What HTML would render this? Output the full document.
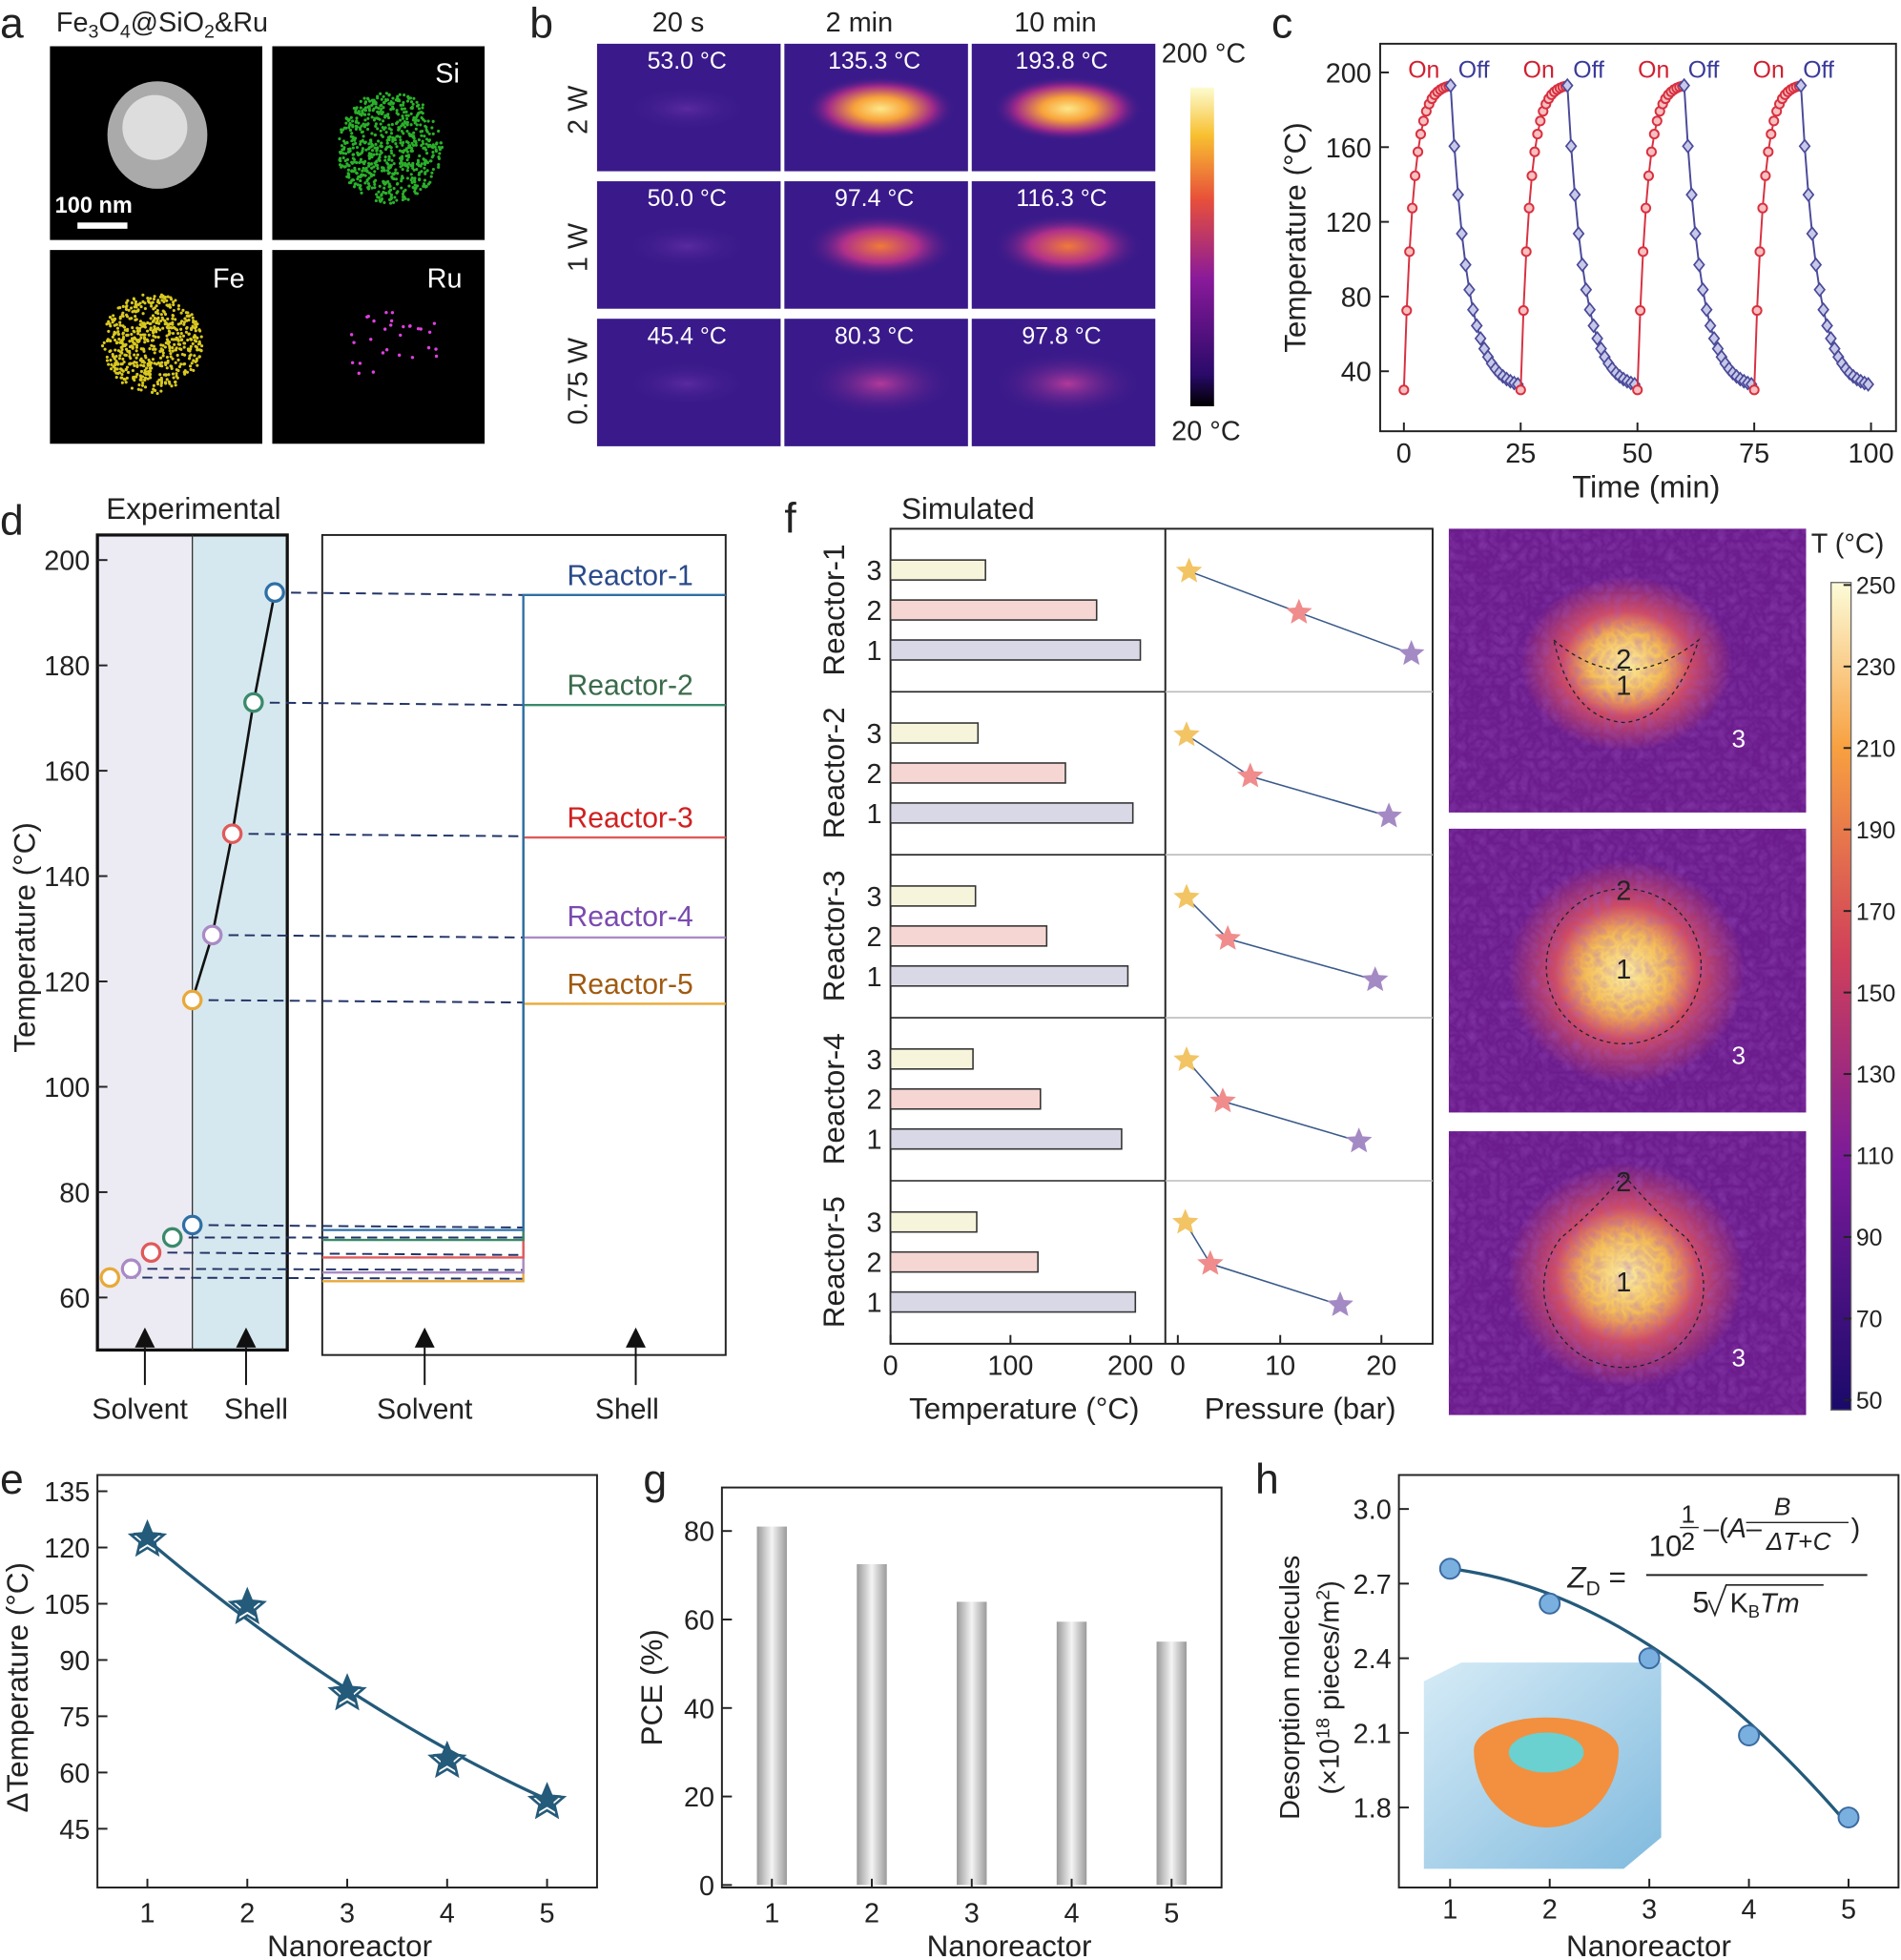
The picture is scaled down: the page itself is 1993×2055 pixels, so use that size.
<!DOCTYPE html>
<html><head><meta charset="utf-8"><style>
html,body{margin:0;padding:0;background:#fff}
svg{display:block}
text{font-family:"Liberation Sans",sans-serif}
</style></head><body>
<svg id="s" width="1993" height="2055" viewBox="0 0 1522 1568" preserveAspectRatio="none" xmlns="http://www.w3.org/2000/svg">
<defs>
<radialGradient id="hot1" cx="50%" cy="50%" r="50%"><stop offset="0" stop-color="#fde78a"/><stop offset=".35" stop-color="#f8a43a"/><stop offset=".7" stop-color="#a02a8a"/><stop offset="1" stop-color="#3a1a8a" stop-opacity="0"/></radialGradient>
<radialGradient id="hot2" cx="50%" cy="50%" r="50%"><stop offset="0" stop-color="#f07a3a"/><stop offset=".5" stop-color="#b0308a"/><stop offset="1" stop-color="#3a1a8a" stop-opacity="0"/></radialGradient>
<radialGradient id="hot3" cx="50%" cy="50%" r="50%"><stop offset="0" stop-color="#b23a9a"/><stop offset="1" stop-color="#3a1a8a" stop-opacity="0"/></radialGradient>
<radialGradient id="hot4" cx="50%" cy="50%" r="50%"><stop offset="0" stop-color="#5a2aa0"/><stop offset="1" stop-color="#3a1a8a" stop-opacity="0"/></radialGradient>
<radialGradient id="sim" cx="50%" cy="50%" r="50%"><stop offset="0" stop-color="#fff3a0"/><stop offset=".35" stop-color="#f8c050"/><stop offset=".6" stop-color="#d04a60"/><stop offset="1" stop-color="#6a1a8a"/></radialGradient>
<linearGradient id="cb1" x1="0" y1="1" x2="0" y2="0"><stop offset="0" stop-color="#000"/><stop offset=".1" stop-color="#2a0a6a"/><stop offset=".4" stop-color="#8a1a9a"/><stop offset=".65" stop-color="#e8503a"/><stop offset=".85" stop-color="#f8c030"/><stop offset="1" stop-color="#fcfcd0"/></linearGradient>
<linearGradient id="cb2" x1="0" y1="1" x2="0" y2="0"><stop offset="0" stop-color="#1a0a6a"/><stop offset=".3" stop-color="#7a1a9a"/><stop offset=".55" stop-color="#d0405a"/><stop offset=".8" stop-color="#f8a040"/><stop offset="1" stop-color="#fcfcd8"/></linearGradient>
<linearGradient id="bar" x1="0" x2="1"><stop offset="0" stop-color="#9a9a9a"/><stop offset=".5" stop-color="#f4f4f4"/><stop offset="1" stop-color="#9a9a9a"/></linearGradient>
<linearGradient id="cube" x1="0" y1="0" x2="1" y2="1"><stop offset="0" stop-color="#cfe8f5"/><stop offset="1" stop-color="#6aaed8"/></linearGradient>
<filter id="noise" x="0" y="0" width="1" height="1"><feTurbulence baseFrequency="0.12" numOctaves="2" seed="3"/><feColorMatrix values="0 0 0 0 0.35  0 0 0 0 0.1  0 0 0 0 0.6  0 0 0 0.5 0"/></filter>
</defs>
<g id="g" font-size="22" fill="#222"></g>
</svg>
<script>
const g=document.getElementById('g');let h='';
function T(x,y,s,o){o=o||{};h+=`<text x="${x}" y="${y}" font-size="${o.fs||22}" fill="${o.c||'#222'}" text-anchor="${o.a||'start'}" ${o.t?`transform="rotate(-90 ${x} ${y})"`:''} ${o.ex||''}>${s}</text>`}
function L(a,b,c,d,col,w,dash){h+=`<line x1="${a}" y1="${b}" x2="${c}" y2="${d}" stroke="${col||'#222'}" stroke-width="${w||1.5}" ${dash?`stroke-dasharray="${dash}"`:''}/>`}
function R(x,y,w,hh,f,st,sw){h+=`<rect x="${x}" y="${y}" width="${w}" height="${hh}" fill="${f||'none'}" ${st?`stroke="${st}" stroke-width="${sw||1.5}"`:''}/>`}
function C(x,y,r,f,st,sw){h+=`<circle cx="${x}" cy="${y}" r="${r}" fill="${f}" ${st?`stroke="${st}" stroke-width="${sw||2}"`:''}/>`}
function star(x,y,r,f,st,sw){let p=[];for(let i=0;i<10;i++){let a=-Math.PI/2+i*Math.PI/5,rr=i%2?r*0.45:r;p.push((x+rr*Math.cos(a)).toFixed(1)+','+(y+rr*Math.sin(a)).toFixed(1))}h+=`<polygon points="${p.join(' ')}" fill="${f}" ${st?`stroke="${st}" stroke-width="${sw||1.5}"`:''}/>`}
const LB={fs:34};
T(0,30,'a',LB);T(424,30,'b',LB);T(1018,30,'c',LB);T(0,428,'d',LB);T(628,426,'f',LB);T(0,1195,'e',LB);T(515,1195,'g',LB);T(1005,1195,'h',LB);
// a
T(45,25,'Fe<tspan font-size="15" dy="5">3</tspan><tspan dy="-5">O</tspan><tspan font-size="15" dy="5">4</tspan><tspan dy="-5">@SiO</tspan><tspan font-size="15" dy="5">2</tspan><tspan dy="-5">&amp;Ru</tspan>');
R(40,37,170,155,'#000');R(218,37,170,155,'#000');R(40,200,170,155,'#000');R(218,200,170,155,'#000');
h+=`<ellipse cx="126" cy="108" rx="40" ry="43" fill="#aaa"/><ellipse cx="124" cy="102" rx="26" ry="26" fill="#ddd"/>`;
T(44,170,'100 nm',{c:'#fff',fs:18,ex:'font-weight="bold"'});R(62,178,40,5,'#fff');
let rs=1;function rnd(){rs=(rs*16807)%2147483647;return rs/2147483647}
for(let i=0;i<700;i++){let a=rnd()*6.28,r=Math.sqrt(rnd());C(312+42*r*Math.cos(a),118+45*r*Math.sin(a),1.2,'#2ab02a')}
for(let i=0;i<600;i++){let a=rnd()*6.28,r=Math.sqrt(rnd());C(122+40*r*Math.cos(a),275+40*r*Math.sin(a),1.2,'#d8c820')}
for(let i=0;i<30;i++){C(280+rnd()*70,250+rnd()*50,1.3,'#e040e0')}
T(368,66,'Si',{c:'#fff',a:'end'});T(196,230,'Fe',{c:'#fff',a:'end'});T(370,230,'Ru',{c:'#fff',a:'end'});
// b
T(543,25,'20 s',{a:'middle'});T(688,25,'2 min',{a:'middle'});T(845,25,'10 min',{a:'middle'});
const cols=[478,628,778],rows=[35,145,255],temps=[['53.0','135.3','193.8'],['50.0','97.4','116.3'],['45.4','80.3','97.8']];
const grads=[['hot4','hot1','hot1'],['hot4','hot2','hot2'],['hot4','hot3','hot3']];
for(let r=0;r<3;r++)for(let c=0;c<3;c++){let x=cols[c],y=rows[r];R(x,y,147,102,'#3a1a8a');h+=`<ellipse cx="${x+72+(c?5:0)}" cy="${y+52}" rx="${c?60:50}" ry="${c?26:18}" fill="url(#${grads[r][c]})"/>`;T(x+72,y+20,temps[r][c]+' °C',{c:'#fff',fs:19,a:'middle'})}
T(470,88,'2 W',{t:1,a:'middle'});T(470,198,'1 W',{t:1,a:'middle'});T(470,305,'0.75 W',{t:1,a:'middle'});
R(953,70,19,255,'url(#cb1)');T(930,50,'200 °C');T(938,352,'20 °C');
// c
R(1105,35,413,310,'none','#222',1.5);
T(1045,190,'Temperature (°C)',{t:1,a:'middle',fs:24});T(1318,398,'Time (min)',{a:'middle',fs:25});
for(const v of [40,80,120,160,200]){let y=297-(v-40)*1.494;L(1105,y,1112,y);T(1098,y+8,v,{a:'end'})}
for(const v of [0,25,50,75,100]){let x=1124+v*3.74;L(x,345,x,338);T(x,370,v,{a:'middle'})}
for(let k=0;k<4;k++){let t0=k*25;let ph=[],pc=[];
 for(let t=0;t<=10.01;t+=0.6){let T2=30+163*(1-Math.exp(-t/2.0))/(1-Math.exp(-10/2.0));ph.push([1124+(t0+t)*3.74,297-(T2-40)*1.494])}
 for(let t=10;t<=25.01;t+=0.8){let T2=30+163*Math.exp(-(t-10)/3.6);pc.push([1124+(t0+t)*3.74,297-(T2-40)*1.494])}
 h+=`<polyline points="${ph.map(p=>p.join(',')).join(' ')}" fill="none" stroke="#d83040" stroke-width="1.5"/>`;
 h+=`<polyline points="${pc.map(p=>p.join(',')).join(' ')}" fill="none" stroke="#4a4a9a" stroke-width="1.5"/>`;
 ph.forEach(p=>C(p[0],p[1],3.5,'#f8c0c0','#d83040',1.5));
 pc.forEach(p=>h+=`<polygon points="${p[0]},${p[1]-5} ${p[0]+4},${p[1]} ${p[0]},${p[1]+5} ${p[0]-4},${p[1]}" fill="#c8c8e8" stroke="#4a4a9a" stroke-width="1.3"/>`);
 T(1140+k*92,62,'On',{c:'#d02030',fs:19,a:'middle'});T(1180+k*92,62,'Off',{c:'#3a3a9a',fs:19,a:'middle'});
}
// d
R(78,428,76,652,'#ecebf3');R(154,428,76,652,'#d6e8ef');R(78,428,152,652,'none','#111',2.5);L(154,428,154,1080,'#333',1);
R(258,428,323,656,'none','#222',1.5);
T(155,415,'Experimental',{a:'middle',fs:24});T(28,750,'Temperature (°C)',{t:1,a:'middle',fs:24});
for(const v of [60,80,100,120,140,160,180,200]){let y=1038-(v-60)*4.214;L(78,y,86,y);T(72,y+8,v,{a:'end'})}
const dc=['#e8a93a','#a98ac6','#e05a5a','#3a8a6a','#2e6fa5'];
const sp=[[88,1022],[105,1015],[121,1002],[138,990],[154,980]],shp=[[154,800],[170,748],[186,667],[203,562],[220,474]];
const lowY=[1025,1018,1006,992,984],hiY=[803,750,670,564,476];
for(let i=0;i<5;i++){L(shp[i][0],shp[i][1],419,shp[i][1]+2,'#223366',1.5,'8,5');L(sp[i][0],sp[i][1],419,lowY[i]-2,'#223366',1.5,'8,5');
 h+=`<polyline points="258,${lowY[i]} 419,${lowY[i]} 419,${hiY[i]} 581,${hiY[i]}" fill="none" stroke="${dc[i]}" stroke-width="1.8"/>`}
h+=`<polyline points="${shp.map(p=>p.join(',')).join(' ')}" fill="none" stroke="#111" stroke-width="2"/>`;
for(let i=0;i<5;i++){C(sp[i][0],sp[i][1],7,'#fff',dc[i],2.5);C(shp[i][0],shp[i][1],7,'#fff',dc[i],2.5)}
const rn=[['Reactor-1','#2a4a8a',468],['Reactor-2','#3a6a4a',556],['Reactor-3','#d02020',662],['Reactor-4','#7a4ab0',741],['Reactor-5','#a05a10',795]];
rn.forEach(r=>T(555,r[2],r[0],{c:r[1],a:'end',fs:23}));
for(const x of [116,197,340,509]){h+=`<polygon points="${x},1062 ${x-8},1078 ${x+8},1078" fill="#111"/>`;L(x,1078,x,1108,'#111',1.5)}
T(112,1135,'Solvent',{a:'middle',fs:23});T(205,1135,'Shell',{a:'middle',fs:23});T(340,1135,'Solvent',{a:'middle',fs:23});T(502,1135,'Shell',{a:'middle',fs:23});
// f
T(775,415,'Simulated',{a:'middle',fs:24});
R(713,423,434,652,'none','#222',1.5);L(933,423,933,1075,'#222',1.5);
const bl=[[76,165,200],[70,140,194],[68,125,190],[66,120,185],[69,118,196]];
const stp=[[[952,457],[1040,490],[1130,523]],[[950,588],[1001,621],[1112,653]],[[950,718],[983,751],[1101,784]],[[950,848],[979,881],[1088,913]],[[949,978],[969,1011],[1073,1044]]];
for(let r=0;r<5;r++){let y0=423+r*130.4;if(r){L(713,y0,933,y0,'#222',1.2);L(933,y0,1147,y0,'#bbb',1.2)}
 const bc=['#f7f4dc','#f6d6d2','#d8d8e6'];
 for(let j=0;j<3;j++){let yy=y0+25+j*32;R(713,yy,bl[r][j],16,bc[j],'#333',1.2);T(706,yy+16,3-j,{a:'end'})}
 T(676,y0+65,'Reactor-'+(r+1),{t:1,a:'middle',fs:24});
 let s=stp[r];h+=`<polyline points="${s.map(p=>p.join(',')).join(' ')}" fill="none" stroke="#3a5a8a" stroke-width="1.2"/>`;
 star(s[0][0],s[0][1],11,'#f2c464');star(s[1][0],s[1][1],11,'#f08c8c');star(s[2][0],s[2][1],11,'#a48ac4');
}
for(const [v,x] of [[0,713],[100,809],[200,905]]){L(x,1075,x,1068);T(x,1100,v,{a:'middle'})}
for(const [v,x] of [[0,943],[10,1025],[20,1106]]){L(x,1075,x,1068);T(x,1100,v,{a:'middle'})}
T(820,1135,'Temperature (°C)',{a:'middle',fs:24});T(1041,1135,'Pressure (bar)',{a:'middle',fs:24});
const hm=[423,663,905];
hm.forEach((y,i)=>{R(1160,y,286,227,'#6a1a8a');h+=`<ellipse cx="1302" cy="${y+(i?115:108)}" rx="${i?95:85}" ry="${i?90:70}" fill="url(#sim)"/>`;h+=`<rect x="1160" y="${y}" width="286" height="227" filter="url(#noise)"/>`;T(1392,y+(i?188:175),'3',{c:'#fff',fs:20,a:'middle'})});
h+=`<path d="M1244,512 Q1300,560 1360,512 Q1340,575 1300,578 Q1258,575 1244,512Z" fill="none" stroke="#222" stroke-dasharray="3,3"/>`;T(1300,535,'2',{a:'middle'});T(1300,556,'1',{a:'middle'});
h+=`<circle cx="1300" cy="773" r="62" fill="none" stroke="#222" stroke-dasharray="3,3"/>`;T(1300,720,'2',{a:'middle'});T(1300,783,'1',{a:'middle'});
h+=`<path d="M1300,940 Q1330,975 1350,990 A64,64 0 1 1 1250,990 Q1275,970 1300,940Z" fill="none" stroke="#222" stroke-dasharray="3,3"/>`;T(1300,953,'2',{a:'middle'});T(1300,1033,'1',{a:'middle'});
R(1466,466,16,662,'url(#cb2)','#666',1);T(1450,442,'T (°C)');
for(let i=0;i<11;i++){let v=250-i*20,y=468+i*65.2;L(1476,y,1482,y,'#222');T(1486,y+7,v,{fs:19})}
// e
R(78,1180,400,330,'none','#222',1.5);
T(22,1350,'ΔTemperature (°C)',{t:1,a:'middle',fs:24});T(280,1565,'Nanoreactor',{a:'middle',fs:24});
for(let v=45;v<=135;v+=15){let y=1463-(v-45)*3;L(78,y,86,y);T(72,y+8,v,{a:'end'})}
const ev=[122,104,81,63,52];let ep=ev.map((v,i)=>[118+i*80,1463-(v-45)*3]);
let cpe=[];for(let s=0;s<=4.001;s+=0.1){let v=122-22.5*s+1.3*s*s;cpe.push([118+s*80,1463-(v-45)*3])}
h+=`<polyline points="${cpe.map(p=>p.join(',')).join(' ')}" fill="none" stroke="#245a7a" stroke-width="2.5"/>`;
ep.forEach(p=>{star(p[0],p[1],14,'#fff','#245a7a',2);star(p[0],p[1]-2,12,'#245a7a')});
for(let i=1;i<=5;i++){let x=118+(i-1)*80;L(x,1510,x,1503);T(x,1538,i,{a:'middle'})}
// g
R(578,1190,400,320,'none','#222',1.5);
T(530,1350,'PCE (%)',{t:1,a:'middle',fs:24});T(808,1565,'Nanoreactor',{a:'middle',fs:24});
for(let v=0;v<=80;v+=20){let y=1508-v*3.54;L(578,y,586,y);T(572,y+8,v,{a:'end'})}
[81,72.5,64,59.5,55].forEach((v,i)=>{let x=618+i*80;R(x-12,1508-v*3.54,24,v*3.54,'url(#bar)');L(x,1510,x,1503);T(x,1538,i+1,{a:'middle'})});
// h
R(1120,1180,400,330,'none','#222',1.5);
T(1040,1350,'Desorption molecules',{t:1,a:'middle',fs:22});T(1072,1350,'(×10<tspan font-size="15" dy="-8">18</tspan><tspan dy="8"> pieces/m</tspan><tspan font-size="15" dy="-8">2</tspan><tspan dy="8">)</tspan>',{t:1,a:'middle',fs:22});
T(1320,1565,'Nanoreactor',{a:'middle',fs:24});
for(const v of [1.8,2.1,2.4,2.7,3.0]){let y=1446-(v-1.8)*199;L(1120,y,1128,y);T(1114,y+8,v.toFixed(1),{a:'end'})}
h+=`<polygon points="1140,1345 1170,1330 1330,1330 1330,1470 1300,1495 1140,1495" fill="url(#cube)" opacity=".85"/>`;
h+=`<path d="M1180,1400 A58,62 0 0 0 1296,1400 A58,26 0 0 0 1180,1400Z" fill="#f29040"/><ellipse cx="1238" cy="1402" rx="30" ry="16" fill="#6ad0d0"/>`;
const hv=[2.76,2.62,2.40,2.09,1.76];
let cph=[];for(let t=1;t<=5.001;t+=0.1){let v=2.76-0.05*(t-1)-0.052*(t-1)*(t-1);cph.push([1161+(t-1)*79.75,1446-(v-1.8)*199])}
h+=`<polyline points="${cph.map(p=>p.join(',')).join(' ')}" fill="none" stroke="#245a7a" stroke-width="2.5"/>`;
hv.forEach((v,i)=>{C(1161+i*79.75,1446-(v-1.8)*199,8,'#7ab0e0','#3a6aa0',1.5)});
for(let i=1;i<=5;i++){let x=1161+(i-1)*79.75;L(x,1510,x,1503);T(x,1535,i,{a:'middle'})}
T(1255,1270,'<tspan font-style="italic">Z</tspan><tspan font-size="16" dy="6">D</tspan><tspan dy="-6"> =</tspan>',{fs:24});
L(1318,1260,1495,1260,'#222',1.5);
T(1320,1245,'10',{fs:24});T(1346,1218,'1',{fs:20});L(1345,1222,1360,1222,'#222',1);T(1346,1240,'2',{fs:20});
T(1364,1230,'–(<tspan font-style="italic">A</tspan>–',{fs:22});T(1427,1212,'<tspan font-style="italic">B</tspan>',{fs:20,a:'middle'});L(1398,1218,1480,1218,'#222',1);T(1440,1240,'<tspan font-style="italic">ΔT</tspan>+<tspan font-style="italic">C</tspan>',{fs:20,a:'middle'});T(1482,1230,')',{fs:22});
T(1355,1290,'5',{fs:24});h+=`<polyline points="1368,1280 1373,1292 1382,1268 1460,1268" fill="none" stroke="#222" stroke-width="1.3"/>`;T(1385,1290,'K<tspan font-size="14" dy="4">B</tspan><tspan dy="-4" font-style="italic">Tm</tspan>',{fs:22,ex:'font-family="Liberation Serif"'});
g.innerHTML=h;
</script>
</body></html>
